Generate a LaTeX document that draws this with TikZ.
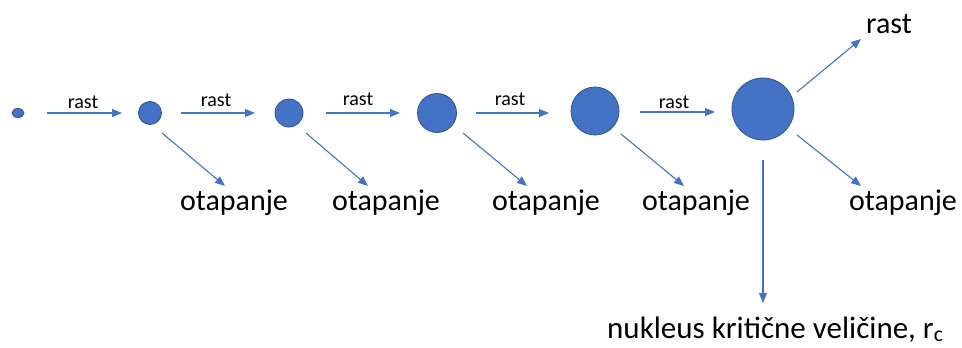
\documentclass[tikz,border=0pt]{standalone}
\usepackage{fontspec}
\setmainfont{Carlito}
\usetikzlibrary{arrows.meta,shapes.geometric}
\definecolor{nucblue}{HTML}{4472C4}
\definecolor{nucedge}{HTML}{2F528F}
\tikzset{
  nuc/.style={circle,fill=nucblue,draw=nucedge,line width=0.8pt,inner sep=0pt},
  arr/.style={nucblue,line width=1.1pt,-{Triangle[length=10pt,width=8pt]}},
  smalltxt/.style={font=\fontsize{20}{24}\selectfont,anchor=base,inner sep=0pt},
  bigtxt/.style={font=\fontsize{30}{36}\selectfont,anchor=base,inner sep=0pt}
}
\begin{document}
\begin{tikzpicture}[x=1pt,y=-1pt]
\useasboundingbox (0,0) rectangle (962,348);
% grains
\node[nuc,ellipse,minimum width=12pt,minimum height=9pt] (g0) at (18,113) {};
\node[nuc,minimum size=23pt] (g1) at (150,113) {};
\node[nuc,minimum size=28pt] (g2) at (289,113) {};
\node[nuc,minimum size=39pt] (g3) at (437,113) {};
\node[nuc,minimum size=48pt] (g4) at (595,111) {};
\node[nuc,minimum size=62pt] (g5) at (763,109) {};
% growth steps
\coordinate (r1a) at (47,113);  \coordinate (r1b) at (122,113);
\coordinate (r2a) at (181,113); \coordinate (r2b) at (255,113);
\coordinate (r3a) at (326,113); \coordinate (r3b) at (400,113);
\coordinate (r4a) at (476,113); \coordinate (r4b) at (549,113);
\coordinate (r5a) at (640,112); \coordinate (r5b) at (715,112);
\draw[arr] (r1a) -- (r1b);
\draw[arr] (r2a) -- (r2b);
\draw[arr] (r3a) -- (r3b);
\draw[arr] (r4a) -- (r4b);
\draw[arr] (r5a) -- (r5b);
\node[smalltxt] (rast1) at (83,108) {rast};
\node[smalltxt] (rast2) at (216,106) {rast};
\node[smalltxt] (rast3) at (358,105) {rast};
\node[smalltxt] (rast4) at (510,105) {rast};
\node[smalltxt] (rast5) at (674,108) {rast};
% dissolving
\node[bigtxt] (ota1) at (234,210) {otapanje};
\node[bigtxt] (ota2) at (386,210) {otapanje};
\node[bigtxt] (ota3) at (546,210) {otapanje};
\node[bigtxt] (ota4) at (696,210) {otapanje};
\node[bigtxt] (ota5) at (903,210) {otapanje};
\coordinate (d1a) at (162,133); \coordinate (d1b) at (225,186);
\coordinate (d2a) at (306,133); \coordinate (d2b) at (368,186);
\coordinate (d3a) at (463,133); \coordinate (d3b) at (527,186);
\coordinate (d4a) at (621,134); \coordinate (d4b) at (684,186);
\coordinate (d5a) at (797,135); \coordinate (d5b) at (861,186);
\draw[arr] (d1a) -- (d1b);
\draw[arr] (d2a) -- (d2b);
\draw[arr] (d3a) -- (d3b);
\draw[arr] (d4a) -- (d4b);
\draw[arr] (d5a) -- (d5b);
% critical nucleus
\node[bigtxt] (rastc) at (889,33) {rast};
\coordinate (u5a) at (797,92); \coordinate (u5b) at (861,39);
\draw[arr] (u5a) -- (u5b);
\node[bigtxt,font=\fontsize{31}{36}\selectfont,anchor=base west] (krit) at (607,338) {nukleus kritične veličine, r\textsubscript{c}};
\coordinate (v5a) at (763,160); \coordinate (v5b) at (763,303);
\draw[arr] (v5a) -- (v5b);
\end{tikzpicture}
\end{document}
